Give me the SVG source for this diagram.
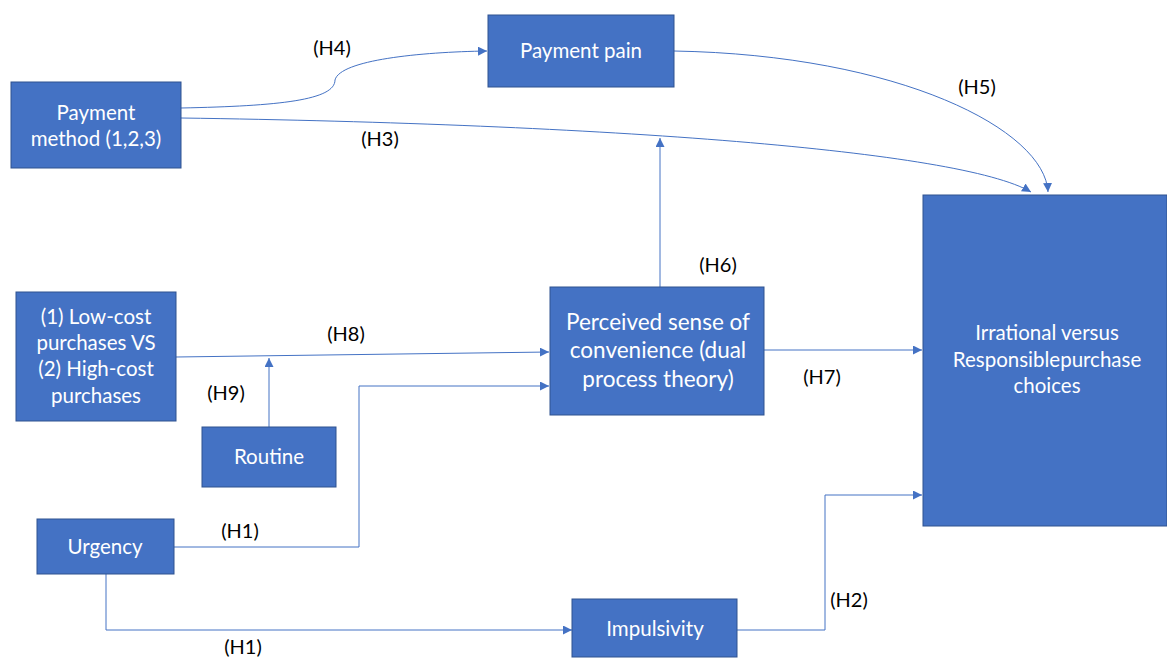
<svg xmlns="http://www.w3.org/2000/svg" width="1167" height="658" viewBox="0 0 1167 658">
<style>
.box{fill:#4472C4;stroke:#2F528F;stroke-width:1}
.t{font-family:Lato,"Liberation Sans",sans-serif;font-size:20.5px;fill:#fff;text-anchor:middle}
.lbl{font-family:Lato,"Liberation Sans",sans-serif;font-size:20px;fill:#000;text-anchor:middle}
.c{fill:none;stroke:#4472C4;stroke-width:1;marker-end:url(#ah)}
</style>
<defs>
<marker id="ah" viewBox="0 0 10 10" refX="10" refY="5" markerWidth="9" markerHeight="9" markerUnits="userSpaceOnUse" orient="auto">
<path d="M0,0 L10,5 L0,10 z" fill="#4472C4"/>
</marker>
</defs>
<rect width="1167" height="658" fill="#fff"/>
<g id="connectors">
<path class="c" d="M181,108 C280,106 335,100 335,80 C340,60 420,52 487,51"/>
<path class="c" d="M181,118 C600,124 960,150 1031,192"/>
<path class="c" d="M674,51 C900,55 1045,130 1048,192"/>
<path class="c" d="M660,287 L660,138"/>
<path class="c" d="M176,357 L549,352"/>
<path class="c" d="M269,427 L269,358"/>
<path class="c" d="M174,547 L359,547 L359,386 L549,386"/>
<path class="c" d="M106,574 L106,630 L572,630"/>
<path class="c" d="M737,630 L825,630 L825,495 L922,495"/>
<path class="c" d="M764,350 L922,350"/>
<text class="lbl" x="332" y="55">(H4)</text>
<text class="lbl" x="380" y="146">(H3)</text>
<text class="lbl" x="977" y="94">(H5)</text>
<text class="lbl" x="718" y="272">(H6)</text>
<text class="lbl" x="346" y="341">(H8)</text>
<text class="lbl" x="226" y="400">(H9)</text>
<text class="lbl" x="822" y="384">(H7)</text>
<text class="lbl" x="240" y="538">(H1)</text>
<text class="lbl" x="243" y="654">(H1)</text>
<text class="lbl" x="849" y="607">(H2)</text>
</g>
<g id="payment-method">
<rect class="box" x="11" y="82" width="170" height="86"/>
<text class="t" x="96" y="120">Payment</text>
<text class="t" x="96" y="146">method (1,2,3)</text>
</g>
<g id="payment-pain">
<rect class="box" x="488" y="15" width="186" height="72"/>
<text class="t" x="581" y="58">Payment pain</text>
</g>
<g id="irrational">
<rect class="box" x="923" y="195" width="244" height="331"/>
<text class="t" x="1047" y="340">Irrational versus</text>
<text class="t" x="1047" y="367">Responsiblepurchase</text>
<text class="t" x="1047" y="393">choices</text>
</g>
<g id="cost">
<rect class="box" x="16" y="292" width="160" height="129"/>
<text class="t" x="96" y="324">(1) Low-cost</text>
<text class="t" x="96" y="350">purchases VS</text>
<text class="t" x="96" y="376">(2) High-cost</text>
<text class="t" x="96" y="403">purchases</text>
</g>
<g id="routine">
<rect class="box" x="202" y="427" width="134" height="60"/>
<text class="t" x="269" y="464">Routine</text>
</g>
<g id="convenience">
<rect class="box" x="550" y="287" width="214" height="128"/>
<text class="t" x="658" y="330" style="font-size:22.5px">Perceived sense of</text>
<text class="t" x="658" y="358" style="font-size:22.5px">convenience (dual</text>
<text class="t" x="658" y="387" style="font-size:22.5px">process theory)</text>
</g>
<g id="urgency">
<rect class="box" x="37" y="519" width="137" height="55"/>
<text class="t" x="105" y="554">Urgency</text>
</g>
<g id="impulsivity">
<rect class="box" x="572" y="599" width="165" height="58"/>
<text class="t" x="655" y="636">Impulsivity</text>
</g>
</svg>
